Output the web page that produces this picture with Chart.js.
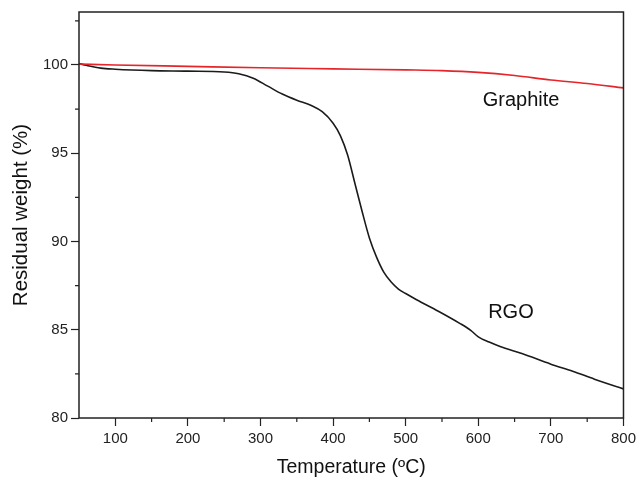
<!DOCTYPE html>
<html>
<head>
<meta charset="utf-8">
<script src="https://cdn.jsdelivr.net/npm/chart.js@4"></script>
<style>
  html, body { margin: 0; padding: 0; background: #fff; }
  #wrap { width: 640px; height: 477px; }
</style>
</head>
<body>
<div id="wrap"><canvas id="tga"></canvas></div>
<script>
// temperature (C) and residual weight (%)
const rgoTemp = [50, 60, 80, 100, 150, 200, 250, 270, 290, 310, 330, 350, 370, 385, 400, 410, 420, 430, 440, 450, 460, 470, 480, 490, 500, 515, 545, 575, 590, 600, 615, 630, 660, 700, 730, 760, 800];
const rgoWeight = [100.08, 99.98, 99.82, 99.76, 99.68, 99.65, 99.6, 99.5, 99.25, 98.8, 98.35, 98.0, 97.7, 97.35, 96.7, 96.0, 94.9, 93.3, 91.7, 90.2, 89.1, 88.25, 87.7, 87.3, 87.05, 86.7, 86.05, 85.35, 84.95, 84.6, 84.3, 84.05, 83.65, 83.05, 82.65, 82.2, 81.65];

const graphiteTemp = [50, 100, 200, 300, 400, 500, 550, 600, 650, 700, 750, 800];
const graphiteWeight = [100.05, 100.0, 99.92, 99.84, 99.78, 99.72, 99.68, 99.58, 99.4, 99.15, 98.95, 98.7];

const xTicks = [100, 200, 300, 400, 500, 600, 700, 800];
const yTicks = [80, 85, 90, 95, 100];
const xMinor = [150, 250, 350, 450, 550, 650, 750];
const yMinor = [82.5, 87.5, 92.5, 97.5, 102.5];

const labelNames = ['Graphite', 'RGO'];
const labelX = [659, 645];
const labelY = [98.0, 85.95];

const font = "'Liberation Sans', Arial, sans-serif";

function toPoints(xs, ys) {
    let pts = [];
    for (let i = 0; i < xs.length; i++) {
        pts.push({ x: xs[i], y: ys[i] });
    }
    return pts;
}

// frame, minor ticks and curve labels
const extras = {
    id: 'extras',
    afterDraw(chart) {
        const c = chart.ctx;
        const a = chart.chartArea;
        const xs = chart.scales.x;
        const ys = chart.scales.y;
        c.save();
        c.strokeStyle = '#222';
        c.lineWidth = 1.5;
        c.strokeRect(a.left, a.top, a.right - a.left, a.bottom - a.top);

        c.lineWidth = 1.2;
        c.beginPath();
        xMinor.forEach(v => {
            let px = xs.getPixelForValue(v);
            c.moveTo(px, a.bottom);
            c.lineTo(px, a.bottom + 4);
        });
        yMinor.forEach(v => {
            let py = ys.getPixelForValue(v);
            c.moveTo(a.left, py);
            c.lineTo(a.left - 4, py);
        });
        c.stroke();

        c.fillStyle = '#111';
        c.font = '20px ' + font;
        c.textAlign = 'center';
        c.textBaseline = 'middle';
        for (let i = 0; i < labelNames.length; i++) {
            c.fillText(labelNames[i], xs.getPixelForValue(labelX[i]), ys.getPixelForValue(labelY[i]));
        }
        c.restore();
    }
};

const ctx = document.getElementById('tga').getContext('2d');

new Chart(ctx, {
    type: 'line',
    data: {
        datasets: [{
            label: 'Graphite',
            data: toPoints(graphiteTemp, graphiteWeight),
            borderColor: '#e5252a',
            borderWidth: 1.6,
            pointRadius: 0,
            cubicInterpolationMode: 'monotone'
        }, {
            label: 'RGO',
            data: toPoints(rgoTemp, rgoWeight),
            borderColor: '#1b1b1b',
            borderWidth: 1.6,
            pointRadius: 0,
            cubicInterpolationMode: 'monotone'
        }]
    },
    options: {
        responsive: true,
        maintainAspectRatio: false,
        animation: false,
        layout: { padding: { left: 5, right: 16, top: 12, bottom: 0 } },
        plugins: {
            legend: { display: false },
            tooltip: { enabled: false }
        },
        scales: {
            x: {
                type: 'linear',
                min: 50,
                max: 800,
                afterBuildTicks: s => { s.ticks = xTicks.map(v => ({ value: v })); },
                afterFit: s => { s.height = 59; },
                grid: { drawOnChartArea: false, drawTicks: true, tickLength: 8, tickColor: '#222', tickWidth: 1.2 },
                border: { display: false },
                ticks: { color: '#222', font: { family: font, size: 15 }, padding: 4, maxRotation: 0 },
                title: { display: true, text: 'Temperature (ºC)', color: '#111', font: { family: font, size: 19.5 }, padding: { top: 4, bottom: -2 } }
            },
            y: {
                type: 'linear',
                min: 80,
                max: 103,
                afterBuildTicks: s => { s.ticks = yTicks.map(v => ({ value: v })); },
                afterFit: s => { s.width = 74; },
                grid: { drawOnChartArea: false, drawTicks: true, tickLength: 8, tickColor: '#222', tickWidth: 1.2 },
                border: { display: false },
                ticks: { color: '#222', font: { family: font, size: 15 }, padding: 3 },
                title: { display: true, text: 'Residual weight (%)', color: '#111', font: { family: font, size: 20.5 }, padding: { bottom: 6 } }
            }
        }
    },
    plugins: [extras]
});
</script>
</body>
</html>
